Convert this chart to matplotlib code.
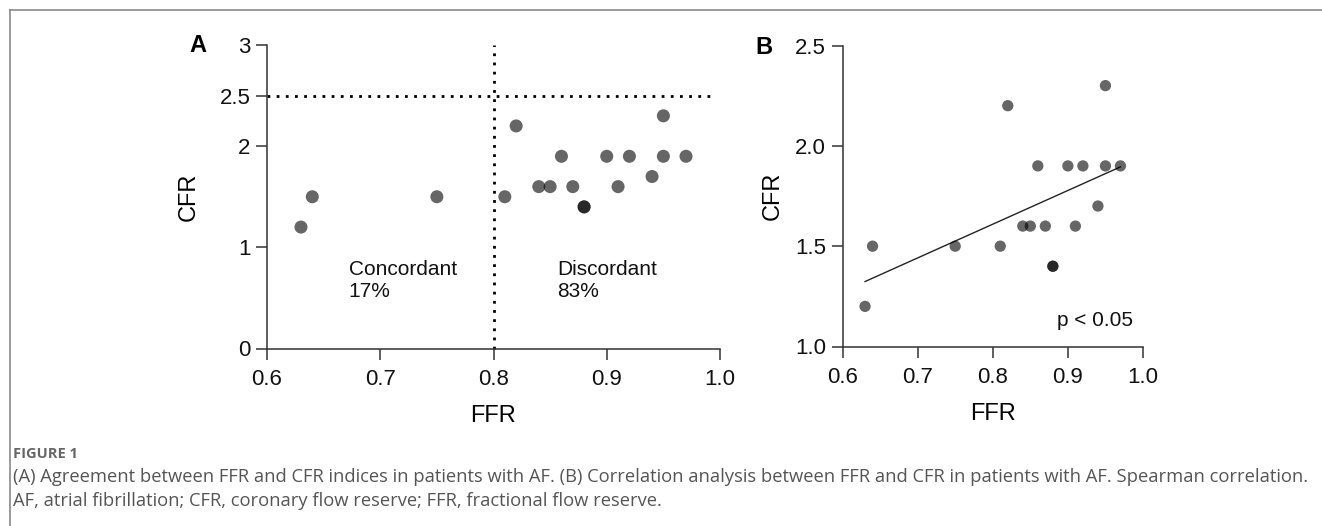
import matplotlib
matplotlib.use("Agg")
import matplotlib.pyplot as plt
import numpy as np
from matplotlib.lines import Line2D

# ---- data ----
ffr = [0.63, 0.64, 0.75, 0.81, 0.82, 0.84, 0.85, 0.86, 0.87, 0.88, 0.88,
       0.90, 0.91, 0.92, 0.94, 0.95, 0.95, 0.97]
cfr = [1.2, 1.5, 1.5, 1.5, 2.2, 1.6, 1.6, 1.9, 1.6, 1.4, 1.4,
       1.9, 1.6, 1.9, 1.7, 2.3, 1.9, 1.9]

ffr_cut = 0.8
cfr_cut = 2.5

a_xticks = [0.6, 0.7, 0.8, 0.9, 1.0]
a_xticklabels = ["0.6", "0.7", "0.8", "0.9", "1.0"]
a_yticks = [0, 1, 2, 2.5, 3]
a_yticklabels = ["0", "1", "2", "2.5", "3"]
b_xticks = [0.6, 0.7, 0.8, 0.9, 1.0]
b_xticklabels = ["0.6", "0.7", "0.8", "0.9", "1.0"]
b_yticks = [1.0, 1.5, 2.0, 2.5]
b_yticklabels = ["1.0", "1.5", "2.0", "2.5"]

caption_title = "FIGURE 1"
caption_lines = [
    "(A) Agreement between FFR and CFR indices in patients with AF. (B) Correlation analysis between FFR and CFR in patients with AF. Spearman correlation.",
    "AF, atrial fibrillation; CFR, coronary flow reserve; FFR, fractional flow reserve.",
]

plt.rcParams['font.family'] = ['Liberation Sans', 'DejaVu Sans']

W, H = 1322, 526
fig = plt.figure(figsize=(W / 100, H / 100), dpi=100)

def px_axes(l, r, t, b):
    return [l / W, (H - b) / H, (r - l) / W, (b - t) / H]

axA = fig.add_axes(px_axes(267, 720, 45, 348.5))
axB = fig.add_axes(px_axes(842.5, 1143, 45.5, 346.5))

spine_col = "#333333"
tick_fs = 16
label_fs = 17

def style(ax):
    for s in ["top", "right"]:
        ax.spines[s].set_visible(False)
    for s in ["left", "bottom"]:
        ax.spines[s].set_color(spine_col)
        ax.spines[s].set_linewidth(1.1)
    ax.tick_params(axis="both", length=8, width=1.1, color=spine_col,
                   labelsize=tick_fs, labelcolor="#111111", pad=4)
    ax.tick_params(axis="x", pad=6.5)

# Panel A
style(axA)
axA.scatter(ffr, cfr, s=88, color="black", alpha=0.6, edgecolors="none", zorder=3)
axA.plot([ffr_cut, ffr_cut], [0, 3], color="black", lw=2.0,
         linestyle=(0, (1, 2.3)), zorder=2, clip_on=False)
axA.plot([0.6, 0.995], [cfr_cut, cfr_cut], color="black", lw=2.0,
         linestyle=(0, (1, 2.3)), zorder=2, clip_on=False)
axA.set_xlim(0.6, 1.0)
axA.set_ylim(0, 3)
axA.set_xticks(a_xticks)
axA.set_xticklabels(a_xticklabels)
axA.set_yticks(a_yticks)
axA.set_yticklabels(a_yticklabels)
axA.set_xlabel("FFR", fontsize=label_fs, labelpad=11)
axA.set_ylabel("CFR", fontsize=label_fs, labelpad=14)
axA.text(0.672, 0.87, "Concordant\n17%", fontsize=15, va="top", ha="left",
         linespacing=1.15, color="#111111")
axA.text(0.856, 0.87, "Discordant\n83%", fontsize=15, va="top", ha="left",
         linespacing=1.15, color="#111111")

# Panel B
style(axB)
axB.scatter(ffr, cfr, s=66, color="black", alpha=0.6, edgecolors="none", zorder=3)
k, c = np.polyfit(ffr, cfr, 1)
xf = np.array([min(ffr), max(ffr)])
axB.plot(xf, k * xf + c, color="#222222", lw=1.0, zorder=2)
axB.set_xlim(0.6, 1.0)
axB.set_ylim(1.0, 2.5)
axB.set_xticks(b_xticks)
axB.set_xticklabels(b_xticklabels)
axB.set_yticks(b_yticks)
axB.set_yticklabels(b_yticklabels)
axB.set_xlabel("FFR", fontsize=label_fs, labelpad=11)
axB.set_ylabel("CFR", fontsize=label_fs, labelpad=8)
axB.text(0.885, 1.13, "p < 0.05", fontsize=15, va="center", ha="left", color="#111111")

# Panel letters
fig.text(189 / W, 1 - 46 / H, "A", fontsize=17, fontweight="bold", va="center", ha="left")
fig.text(755 / W, 1 - 47 / H, "B", fontsize=17, fontweight="bold", va="center", ha="left")

# Frame (top and left only)
fig.add_artist(Line2D([10 / W, 1.0], [1 - 10 / H, 1 - 10 / H], transform=fig.transFigure,
                      color="#8a8a8a", lw=1.2))
fig.add_artist(Line2D([10 / W, 10 / W], [0, 1 - 10 / H], transform=fig.transFigure,
                      color="#8a8a8a", lw=1.2))

# Caption
fig.text(13 / W, 1 - 454 / H, caption_title, fontsize=10.5, fontweight="bold",
         color="#666666", family=["Open Sans", "DejaVu Sans"], va="center", ha="left")
fig.text(13 / W, 1 - 477 / H, caption_lines[0], fontsize=13.2,
         color="#555555", family=["Open Sans", "DejaVu Sans"], va="center", ha="left")
fig.text(13 / W, 1 - 501 / H, caption_lines[1], fontsize=13.2,
         color="#555555", family=["Open Sans", "DejaVu Sans"], va="center", ha="left")

fig.savefig("out.png", dpi=100)
